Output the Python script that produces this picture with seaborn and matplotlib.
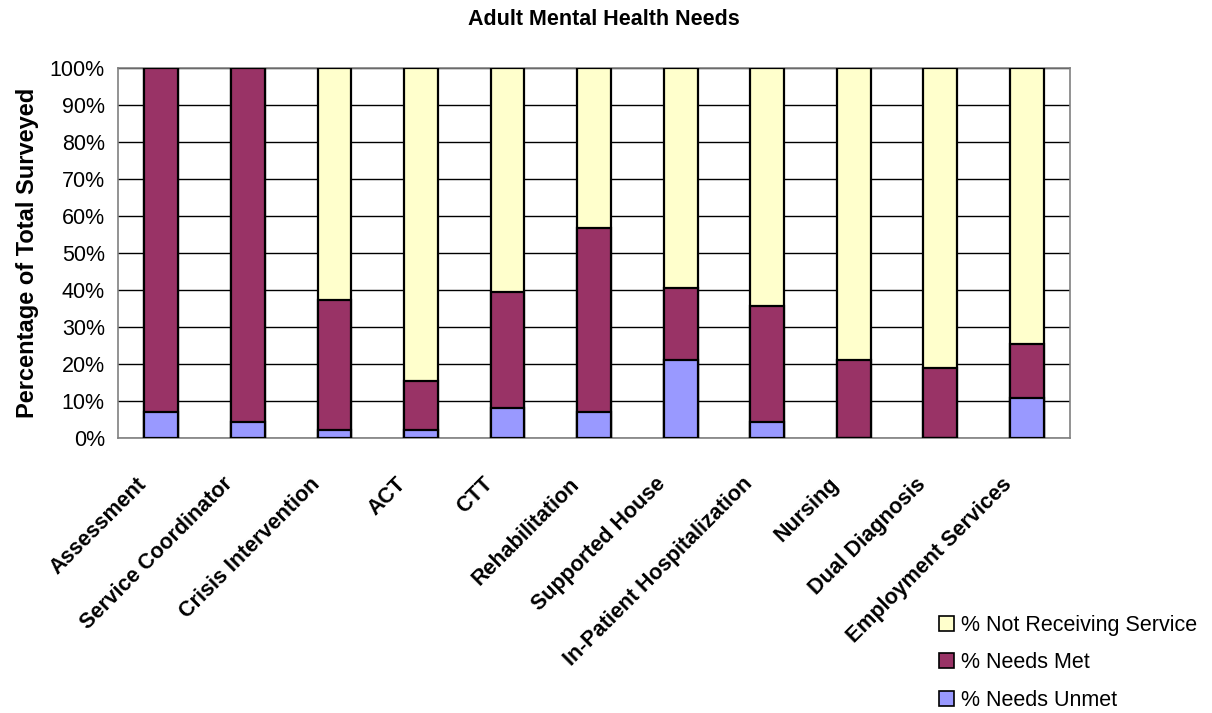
import matplotlib
matplotlib.use("Agg")
import matplotlib.pyplot as plt
import matplotlib.ticker as mticker
import matplotlib.transforms as mtransforms
from matplotlib.patches import Patch
import numpy as np
import pandas as pd
import seaborn as sns

categories = ["Assessment", "Service Coordinator", "Crisis Intervention", "ACT", "CTT",
              "Rehabilitation", "Supported House", "In-Patient Hospitalization",
              "Nursing", "Dual Diagnosis", "Employment Services"]
needs_unmet = [6.9, 4.3, 2.2, 2.2, 8.0, 6.9, 21.0, 4.2, 0.0, 0.0, 10.7]
needs_met = [93.1, 95.7, 35.1, 13.3, 31.4, 49.8, 19.5, 31.5, 21.0, 18.8, 14.7]
not_receiving = [0.0, 0.0, 62.7, 84.5, 60.6, 43.3, 59.5, 64.3, 79.0, 81.2, 74.6]

series_names = ["% Not Receiving Service", "% Needs Met", "% Needs Unmet"]
colors = {"% Not Receiving Service": "#FFFFCC", "% Needs Met": "#993366", "% Needs Unmet": "#9999FF"}

df = pd.DataFrame({"category": categories, "unmet": needs_unmet,
                   "met": needs_met, "not_recv": not_receiving})
df["top_met"] = df["unmet"] + df["met"]
df["top_all"] = df["top_met"] + df["not_recv"]

sns.set_style("white")
plt.rcParams["font.family"] = ["Liberation Sans", "DejaVu Sans"]
plt.rcParams["text.color"] = "black"
plt.rcParams["axes.labelcolor"] = "black"

fig = plt.figure(figsize=(12.12, 7.13), dpi=100)
ax = fig.add_axes([0.0974, 0.3857, 0.7856, 0.5189])

bar_w = 0.39
edge = dict(edgecolor="black", linewidth=1.6)
for col, name in [("top_all", "% Not Receiving Service"),
                  ("top_met", "% Needs Met"),
                  ("unmet", "% Needs Unmet")]:
    sns.barplot(data=df, x="category", y=col, order=categories, color=colors[name],
                width=bar_w, saturation=1, ax=ax, zorder=3, **edge)

ax.set_ylim(0, 100)
ax.set_xlim(-0.5, len(categories) - 0.5)
ax.yaxis.set_major_locator(mticker.MultipleLocator(10))
ax.yaxis.set_major_formatter(mticker.FuncFormatter(lambda v, p: f"{int(round(v))}%"))
ax.grid(axis="y", color="black", linewidth=1.0, zorder=0)
ax.set_axisbelow(True)

for s in ax.spines.values():
    s.set_color("#808080")
    s.set_linewidth(1.2)
    s.set_visible(True)

# category boundary ticks on the x axis
ax.set_xticks(np.arange(len(categories)))
ax.set_xticks(np.arange(-0.5, len(categories), 1.0), minor=True)
ax.tick_params(axis="x", which="major", length=0, pad=0, labelcolor="black")
ax.tick_params(axis="x", which="minor", length=7, width=1.2, color="#808080", direction="out")
ax.tick_params(axis="y", length=6, width=1.2, color="#808080", direction="out",
               labelsize=15.5, labelcolor="black", pad=3.5)
ax.set_xticklabels(categories, rotation=45, ha="right", va="center",
                   rotation_mode="anchor", fontsize=15.5, fontweight="bold")
shift = mtransforms.ScaledTranslation(-18 / 100, -43 / 100, fig.dpi_scale_trans)
for lbl in ax.get_xticklabels():
    lbl.set_transform(lbl.get_transform() + shift)

ax.set_xlabel("")
ax.set_ylabel("Percentage of Total Surveyed", fontsize=17, fontweight="bold", labelpad=8)
fig.suptitle("Adult Mental Health Needs", x=0.4985, y=0.988, fontsize=15.5, fontweight="bold")

handles = [Patch(facecolor=colors[n], edgecolor="black", linewidth=1.2, label=n) for n in series_names]
fig.legend(handles=handles, loc="lower right", bbox_to_anchor=(1.0, -0.018), frameon=False,
           fontsize=15.5, handlelength=0.7, handleheight=0.7, handletextpad=0.3,
           labelspacing=0.77, borderaxespad=0.3)

fig.savefig("out.png", dpi=100, facecolor="white")
